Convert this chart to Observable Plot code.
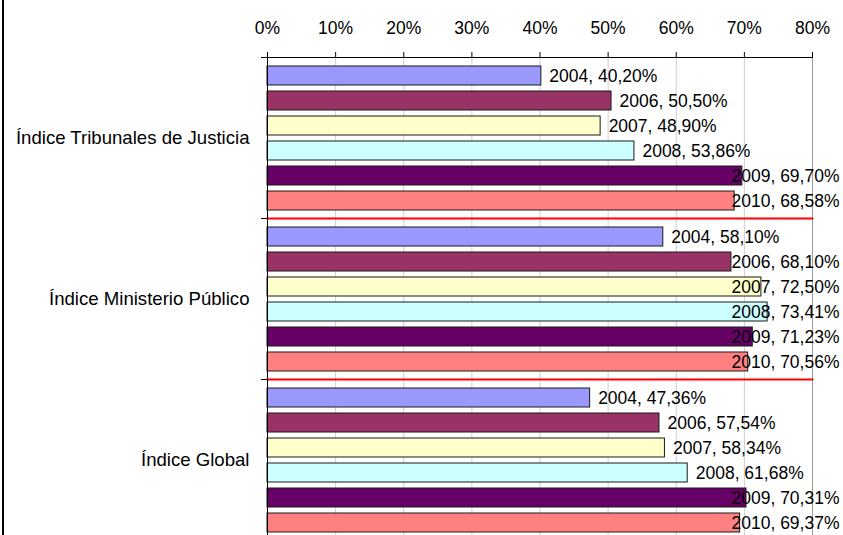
<!DOCTYPE html>
<html><head><meta charset="utf-8">
<script src="https://cdn.jsdelivr.net/npm/d3@7"></script>
<script src="https://cdn.jsdelivr.net/npm/@observablehq/plot@0.6"></script>
<style>
html,body{margin:0;padding:0;background:#fff;overflow:hidden}
#wrap{position:relative;width:843px;height:535px;overflow:hidden}
#wrap::before{content:"";position:absolute;left:2px;top:0;width:2px;height:100%;background:#000;z-index:2}
</style></head><body><div id="wrap"></div>
<script>
const groups = ["Índice Tribunales de Justicia", "Índice Ministerio Público", "Índice Global"];
const years = ["2004", "2006", "2007", "2008", "2009", "2010"];
const tribunales = [40.20, 50.50, 48.90, 53.86, 69.70, 68.58];
const ministerio = [58.10, 68.10, 72.50, 73.41, 71.23, 70.56];
const indiceGlobal = [47.36, 57.54, 58.34, 61.68, 70.31, 69.37];
const yearColors = ["#9999FF", "#993366", "#FFFFCC", "#CCFFFF", "#660066", "#FF8080"];
const xTicks = [0, 10, 20, 30, 40, 50, 60, 70, 80];
const labelClampAt = 66; // labels of longer bars are pushed back inside the chart area

const series = [tribunales, ministerio, indiceGlobal];
const rows = groups.flatMap((g, gi) => years.map((y, yi) => ({group: g, year: y, value: series[gi][yi]})));
const fmt = d => `${d.year}, ${d.value.toFixed(2).replace(".", ",")}%`;
const xMax = xTicks[xTicks.length - 1];
const font = "'Liberation Sans', Arial, sans-serif";

const chart = Plot.plot({
  width: 843,
  height: 540,
  marginTop: 56,
  marginLeft: 267,
  marginRight: 31,
  marginBottom: 0,
  style: {fontFamily: font, fontSize: "17px", color: "#000", background: "#fff", overflow: "visible"},
  x: {domain: [0, xMax]},
  y: {domain: years, axis: null, paddingInner: 0.26, paddingOuter: 0.34},
  fy: {domain: groups, padding: 0},
  color: {domain: years, range: yearColors},
  marks: [
    Plot.ruleX(xTicks.slice(1, -1), {stroke: "#cfcfcf", strokeWidth: 1}),
    Plot.ruleX([xMax], {stroke: "#9a9a9a", strokeWidth: 1}),
    Plot.barX(rows, {fy: "group", y: "year", x: "value", fill: "year", stroke: "#1a1a1a", strokeWidth: 1}),
    Plot.frame({anchor: "top", stroke: "#000", insetLeft: -6}),
    Plot.frame({anchor: "bottom", stroke: "#ff0000", strokeWidth: 2}),
    Plot.ruleX([0], {stroke: "#000", strokeWidth: 1}),
    Plot.axisX(xTicks, {anchor: "top", tickFormat: d => d + "%", tickSize: 6, tickPadding: 18, fontSize: 17.5, label: null}),
    Plot.axisFy({anchor: "left", tickSize: 0, tickPadding: 18, fontSize: 18.6, label: null}),
    Plot.text(rows.filter(d => d.value < labelClampAt), {fy: "group", y: "year", x: "value", text: fmt, textAnchor: "start", dx: 8, fontSize: 17.5, fill: "#000"}),
    Plot.text(rows.filter(d => d.value >= labelClampAt), {fy: "group", y: "year", x: () => xMax, text: fmt, textAnchor: "end", dx: 27, fontSize: 17.5, fill: "#000"})
  ]
});
document.getElementById("wrap").appendChild(chart);
</script>
</body></html>
